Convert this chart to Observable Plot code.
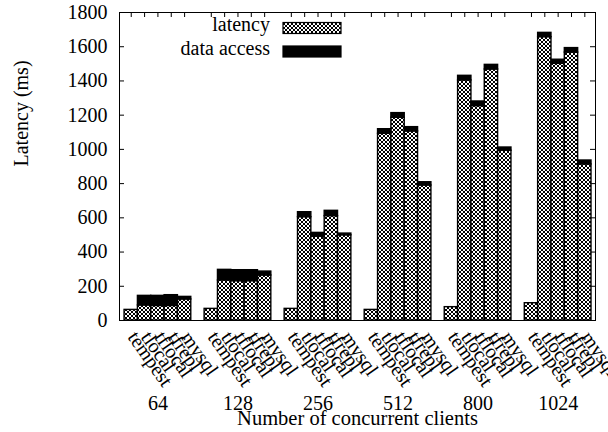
<!DOCTYPE html>
<html><head><meta charset="utf-8">
<script src="https://cdn.jsdelivr.net/npm/d3@7"></script>
<script src="https://cdn.jsdelivr.net/npm/@observablehq/plot@0.6"></script>
<style>body{margin:0;background:#fff;} #chart{width:608px;height:432px;}</style>
</head><body><div id="chart"></div>
<script>
// ---- data ----
const groups = ["64", "128", "256", "512", "800", "1024"];
const systems = ["tempest", "tlocal", "tflocal", "tfrepl", "mysql"];
const latencyTempest = [62, 68, 68, 62, 78, 101];
const latencyTlocal  = [88, 234, 604, 1091, 1403, 1656];
const latencyTflocal = [85, 230, 490, 1185, 1253, 1500];
const latencyTfrepl  = [85, 230, 610, 1105, 1467, 1566];
const latencyMysql   = [123, 263, 498, 789, 992, 912];
const accessTempest  = [0, 0, 0, 0, 0, 0];
const accessTlocal   = [56, 62, 29, 27, 27, 25];
const accessTflocal  = [59, 64, 22, 27, 27, 24];
const accessTfrepl   = [63, 64, 31, 25, 27, 26];
const accessMysql    = [15, 23, 10, 19, 19, 23];
const yTicks = [0, 200, 400, 600, 800, 1000, 1200, 1400, 1600, 1800];
const legendLabels = ["latency", "data access"];
const xTitle = "Number of concurrent clients";
const yTitle = "Latency (ms)";

const latencyBy = [latencyTempest, latencyTlocal, latencyTflocal, latencyTfrepl, latencyMysql];
const accessBy = [accessTempest, accessTlocal, accessTflocal, accessTfrepl, accessMysql];
const rows = [];
groups.forEach((g, gi) => systems.forEach((s, si) => rows.push({
  group: g, system: s, slot: gi * 6 + si,
  latency: latencyBy[si][gi], access: accessBy[si][gi]
})));
const groupRows = groups.map((g, gi) => ({group: g, slot: gi * 6 + 2}));

// ---- layout ----
const W = 608, H = 432;
const mL = 119, mR = 13, mT = 12, mB = 112;
const plotW = W - mL - mR, plotH = H - mT - mB;
const FONT = "'Liberation Serif', 'Times New Roman', serif";

const plot = Plot.plot({
  width: W, height: H,
  marginLeft: mL, marginRight: mR, marginTop: mT, marginBottom: mB,
  style: {fontFamily: FONT, fontSize: "20px", background: "white", color: "black", overflow: "visible"},
  x: {type: "linear", domain: [-0.88, 34.8], axis: null},
  y: {domain: [0, 1800], axis: null},
  marks: [
    Plot.rectY(rows, {x1: d => d.slot - 0.5, x2: d => d.slot + 0.5, y1: 0, y2: "latency",
      fill: "url(#xhatch)", stroke: "black", strokeWidth: 1.4}),
    Plot.rectY(rows.filter(d => d.access > 0), {x1: d => d.slot - 0.5, x2: d => d.slot + 0.5,
      y1: "latency", y2: d => d.latency + d.access, fill: "black", stroke: "black", strokeWidth: 1.4}),
    Plot.frame({stroke: "black", strokeWidth: 1}),
    Plot.tickY(yTicks, {y: d => d, insetRight: plotW - 5, stroke: "black"}),
    Plot.tickY(yTicks, {y: d => d, insetLeft: plotW - 5, stroke: "black"}),
    Plot.tickX(rows, {x: "slot", insetBottom: plotH - 5, stroke: "black"}),
    Plot.text(yTicks, {y: d => d, frameAnchor: "left", dx: -12, textAnchor: "end",
      text: d => String(d), fontSize: 20, fill: "black"}),
    Plot.text(rows, {x: "slot", frameAnchor: "bottom", text: "system", rotate: 55,
      textAnchor: "start", lineAnchor: "middle", dx: 1, dy: 13, fontSize: 20, fill: "black"}),
    Plot.text(groupRows, {x: "slot", frameAnchor: "bottom", text: "group", dy: 83.5,
      lineAnchor: "middle", fontSize: 20, fill: "black"}),
    Plot.text([xTitle], {frameAnchor: "bottom", text: d => d, dy: 98, lineAnchor: "middle",
      fontSize: 20.5, fill: "black"}),
    Plot.text([yTitle], {frameAnchor: "left", text: d => d, dx: -98, rotate: -90,
      lineAnchor: "middle", fontSize: 20, fill: "black"})
  ]
});

// pattern definition (pixel crosshatch) + legend
const svg = d3.select(plot);
const pat = svg.insert("defs", ":first-child").append("pattern")
  .attr("id", "xhatch").attr("width", 4).attr("height", 4)
  .attr("patternUnits", "userSpaceOnUse");
pat.append("rect").attr("width", 4).attr("height", 4).attr("fill", "white");
const hatchPixels = [[0,0],[3,0],[1,1],[2,1],[1,2],[2,2],[0,3],[3,3]];
hatchPixels.forEach(([px, py]) => pat.append("rect").attr("x", px).attr("y", py)
  .attr("width", 1).attr("height", 1).attr("fill", "black").attr("shape-rendering", "crispEdges"));

const legendFills = ["url(#xhatch)", "black"];
const leg = svg.append("g").attr("font-family", FONT).attr("font-size", 20);
legendLabels.forEach((lab, i) => {
  const yb = 31 + i * 23.5;
  leg.append("text").attr("x", 270).attr("y", yb).attr("text-anchor", "end")
    .attr("fill", "black").text(lab);
  leg.append("rect").attr("x", 283).attr("y", yb - 8.5).attr("width", 58).attr("height", 11)
    .attr("fill", legendFills[i]).attr("stroke", "black").attr("stroke-width", 1.2);
});

document.getElementById("chart").appendChild(plot);
</script>
</body></html>
